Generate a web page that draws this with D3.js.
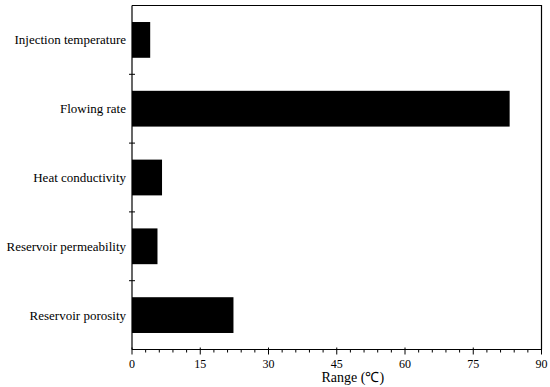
<!DOCTYPE html>
<html>
<head>
<meta charset="utf-8">
<script src="https://cdn.jsdelivr.net/npm/d3@7"></script>
</head>
<body style="margin:0">
<div class="chart"></div>
<script>
// data
var factors = ["Injection temperature", "Flowing rate", "Heat conductivity", "Reservoir permeability", "Reservoir porosity"];
var ranges = [4.0, 83.0, 6.6, 5.6, 22.3];
var xTicks = [0, 15, 30, 45, 60, 75, 90];

var svgWidth = 550;
var svgHeight = 387;

var margin = { top: 5.5, right: 8.5, bottom: 37.5, left: 132 };
var width = svgWidth - margin.left - margin.right;
var height = svgHeight - margin.top - margin.bottom;

var svg = d3.select(".chart")
  .append("svg")
  .attr("width", svgWidth)
  .attr("height", svgHeight);

var data = factors.map((f, i) => ({ name: f, value: ranges[i] }));

// scales work in page coordinates so text can sit straight on the svg
var xScale = d3.scaleLinear().domain([0, 90]).range([margin.left, margin.left + width]);
var yScale = d3.scaleBand().domain(factors)
  .range([margin.top, margin.top + height])
  .paddingInner(0.48).paddingOuter(0.24);
var x0 = margin.left, y0 = margin.top + height;

// frame (top + right)
svg.append("path")
  .attr("d", `M${x0},${margin.top}H${x0 + width}V${y0}`)
  .attr("fill", "none")
  .attr("stroke", "#000")
  .attr("stroke-width", 1.2);

// bars
svg.selectAll(".bar")
  .data(data)
  .enter()
  .append("rect")
  .attr("class", "bar")
  .attr("x", x0)
  .attr("y", d => yScale(d.name))
  .attr("width", d => xScale(d.value) - x0)
  .attr("height", yScale.bandwidth())
  .attr("fill", "#000");

// x axis: minor ticks every 3, major every 15
var minor = d3.range(0, 91, 3).filter(v => v % 15 !== 0);
svg.append("line").attr("x1", x0).attr("x2", x0 + width).attr("y1", y0).attr("y2", y0)
  .attr("stroke", "#000").attr("stroke-width", 1.2);
svg.selectAll(".minor").data(minor).enter().append("line")
  .attr("x1", d => xScale(d)).attr("x2", d => xScale(d))
  .attr("y1", y0).attr("y2", y0 + 3).attr("stroke", "#000");
svg.selectAll(".major").data(xTicks).enter().append("line")
  .attr("x1", d => xScale(d)).attr("x2", d => xScale(d))
  .attr("y1", y0 - 2).attr("y2", y0 + 5).attr("stroke", "#000");
svg.selectAll(".tl").data(xTicks).enter().append("text")
  .attr("x", d => xScale(d)).attr("y", y0 + 18)
  .attr("text-anchor", "middle")
  .attr("font-family", "Liberation Serif")
  .attr("font-size", 12)
  .text(d => d);

// y axis: line with ticks at band boundaries
svg.append("line").attr("x1", x0).attr("x2", x0).attr("y1", margin.top).attr("y2", y0)
  .attr("stroke", "#000").attr("stroke-width", 1.2);
var bounds = d3.range(1, factors.length).map(i => margin.top + i * height / factors.length);
svg.selectAll(".yt").data(bounds).enter().append("line")
  .attr("x1", x0 - 3).attr("x2", x0 + 3)
  .attr("y1", d => d).attr("y2", d => d)
  .attr("stroke", "#000");
svg.selectAll(".yl").data(data).enter().append("text")
  .attr("x", x0 - 6)
  .attr("y", d => yScale(d.name) + yScale.bandwidth() / 2 + 4.5)
  .attr("text-anchor", "end")
  .attr("font-family", "Liberation Serif")
  .attr("font-size", 13)
  .text(d => d.name);

// axis title
svg.append("text")
  .attr("x", x0 + width / 2 + 16)
  .attr("y", y0 + 32)
  .attr("text-anchor", "middle")
  .attr("font-family", "Liberation Serif")
  .attr("font-size", 14)
  .text("Range (℃)");
</script>
</body>
</html>
